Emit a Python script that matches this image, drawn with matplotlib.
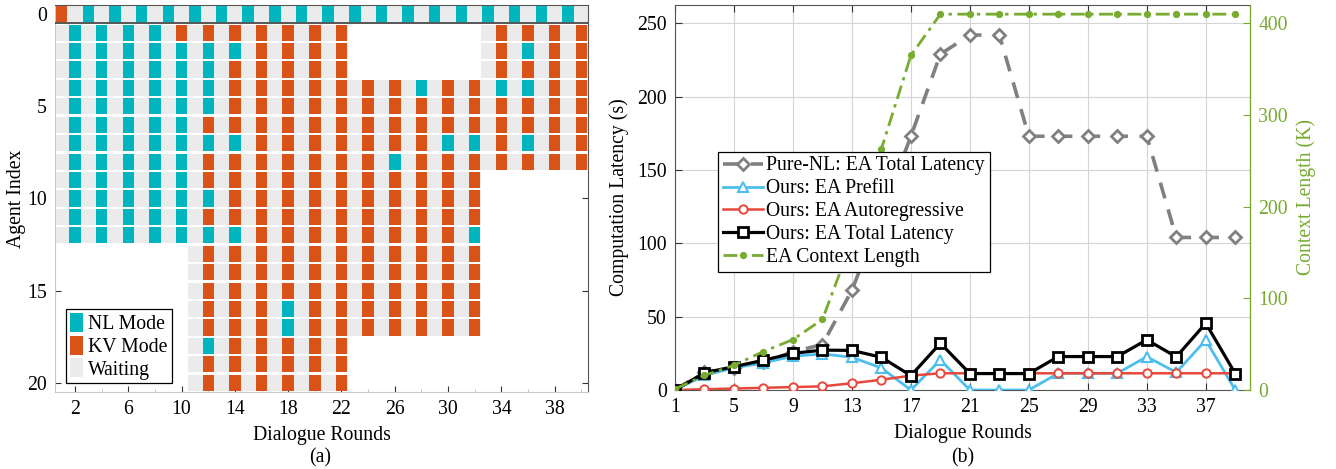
import matplotlib
matplotlib.use("Agg")
import matplotlib.pyplot as plt
import numpy as np
from matplotlib.patches import Patch
from matplotlib.lines import Line2D

plt.rcParams['font.family'] = ['Liberation Serif', 'DejaVu Serif']
plt.rcParams['mathtext.fontset'] = 'stix'

# ---------------- Panel (a) data ----------------
# One string per agent row (row 0 at top); one char per dialogue round 1..40
# N = NL Mode, K = KV Mode, W = Waiting, . = not present
agent_modes = [
    "KWNWNWNWNW" "NWNWNWNWNW" "NWNWNWNWNW" "NWNWNWNWNW",  # 0
    "WNWNWNWNWK" "WKWKWKWKWK" "WK........" "..WKWKWKWK",  # 1
    "WNWNWNWNWN" "WNWNWKWKWK" "WK........" "..WKWNWKWK",  # 2
    "WNWNWNWNWN" "WNWKWKWKWK" "WK........" "..WKWKWKWK",  # 3
    "WNWNWNWNWN" "WNWKWKWKWK" "WKWKWKWNWK" "WKWNWNWKWK",  # 4
    "WNWNWNWNWN" "WNWKWKWKWK" "WKWKWKWKWK" "WKWKWKWKWK",  # 5
    "WNWNWNWNWN" "WKWKWKWKWK" "WKWKWKWKWK" "WKWKWKWKWK",  # 6
    "WNWNWNWNWN" "WNWNWKWKWK" "WKWKWKWKWN" "WNWKWNWKWK",  # 7
    "WNWNWNWNWN" "WKWKWKWKWK" "WKWKWNWKWK" "WKWKWKWKWK",  # 8
    "WNWNWNWNWN" "WKWKWKWKWK" "WKWKWKWKWK" "WK........",  # 9
    "WNWNWNWNWN" "WNWKWKWKWK" "WKWKWKWKWK" "WK........",  # 10
    "WNWNWNWNWN" "WKWKWKWKWK" "WKWKWKWKWK" "WK........",  # 11
    "WNWNWNWNWN" "WNWNWKWKWK" "WKWKWKWKWK" "WN........",  # 12
    ".........." "WKWKWKWKWK" "WKWKWKWKWK" "WK........",  # 13
    ".........." "WKWKWKWKWK" "WKWKWKWKWK" "WK........",  # 14
    ".........." "WKWKWKWKWK" "WKWKWKWKWK" "WK........",  # 15
    ".........." "WKWKWKWNWK" "WKWKWKWKWK" "WK........",  # 16
    ".........." "WKWKWKWNWK" "WKWKWKWKWK" "WK........",  # 17
    ".........." "WNWKWKWKWK" "WK........" "..........",  # 18
    ".........." "WKWKWKWKWK" "WK........" "..........",  # 19
    ".........." "WKWKWKWKWK" "WK........" "..........",  # 20
]
mode_labels = {"N": "NL Mode", "K": "KV Mode", "W": "Waiting"}
a_xticks = [2, 6, 10, 14, 18, 22, 26, 30, 34, 38]
a_yticks = [0, 5, 10, 15, 20]

# ---------------- Panel (b) data ----------------
rounds_b = [1, 3, 5, 7, 9, 11, 13, 15, 17, 19, 21, 23, 25, 27, 29, 31, 33, 35, 37, 39]
purenl_total = [0, 12.5, 15, 19, 26, 31, 68, 120, 173, 229, 242, 242, 173, 173, 173, 173, 173, 104, 104, 104]
ours_prefill = [0, 10, 15, 18.5, 23, 24.6, 22.3, 15, 0, 20.5, 0, 0, 0, 11.4, 11.4, 11.4, 22.7, 12, 34, 0]
ours_autoreg = [0, 0.5, 1, 1.5, 2, 2.5, 4.6, 7, 9.8, 11.4, 11.4, 11.4, 11.4, 11.4, 11.4, 11.4, 11.4, 11.4, 11.4, 11.4]
ours_total = [0, 11.8, 15.9, 20.3, 25, 27.2, 27, 22.3, 9.8, 31.9, 11.2, 11.2, 11.2, 22.8, 22.8, 22.8, 34.2, 22.6, 45.5, 11.2]
context_len_k = [1, 16, 27, 42, 55, 77, 163, 263, 365, 410, 410, 410, 410, 410, 410, 410, 410, 410, 410, 410]
b_xticks = [1, 5, 9, 13, 17, 21, 25, 29, 33, 37]
b_yticks = [0, 50, 100, 150, 200, 250]
b_y2ticks = [0, 100, 200, 300, 400]

# ---------------- styling ----------------
C_NL = '#00B5BE'
C_KV = '#D95319'
C_WAIT = '#EBEBEB'
C_GRAY = '#808080'
C_PRE = '#4DBEEE'
C_AR = '#E8483B'
C_GREEN = '#77AC30'
FS = 14.2

fig = plt.figure(figsize=(13.36, 4.69), dpi=100)

# ---------------- Panel (a) ----------------
axa = fig.add_axes([55/1336, 1-392/469, 533/1336, 387/469])
cell_h = 0.88
for mode, color, w in [("W", C_WAIT, 1.0), ("N", C_NL, 0.86), ("K", C_KV, 0.86)]:
    xs, ys = [], []
    for row, s in enumerate(agent_modes):
        for i, ch in enumerate(s):
            if ch == '.':
                continue
            if mode == "W" or ch == mode:
                xs.append(i + 1)
                ys.append(row)
    axa.bar(xs, cell_h, bottom=np.array(ys) - cell_h/2, width=w, color=color,
            linewidth=0, zorder=2 if mode == "W" else 3)

axa.set_xlim(0.5, 40.5)
axa.set_ylim(20.5, -0.5)
axa.axhline(0.5, color='#3a3a3a', lw=1.2, zorder=4)
axa.set_xticks(a_xticks)
axa.set_xticks(np.arange(2, 41, 2), minor=True)
axa.set_yticks(a_yticks)
axa.tick_params(axis='both', which='major', direction='in', length=4, width=0.8,
                top=True, right=True, labelsize=FS, color='#333333', pad=6)
axa.tick_params(axis='x', which='minor', direction='in', length=2, width=0.6,
                top=False, bottom=True, color='#bbbbbb')
for side in ['bottom', 'left']:
    axa.spines[side].set_color('#c8c8c8')
for side in ['top', 'right']:
    axa.spines[side].set_color('#555555')
axa.set_xlabel('Dialogue Rounds', fontsize=FS, labelpad=5)
axa.set_ylabel('Agent Index', fontsize=FS, labelpad=1)
leg_a = axa.legend(handles=[Patch(facecolor=C_NL, label=mode_labels["N"]),
                            Patch(facecolor=C_KV, label=mode_labels["K"]),
                            Patch(facecolor=C_WAIT, label=mode_labels["W"])],
                   loc='lower left', bbox_to_anchor=(0.02, 0.022), borderaxespad=0,
                   fontsize=FS, fancybox=False, edgecolor='black', framealpha=1,
                   handlelength=0.7, handleheight=1.1, handletextpad=0.25,
                   labelspacing=0.08, borderpad=0.2)
leg_a.get_frame().set_linewidth(0.9)
fig.text(320/1336, 1-458/469, '(a)', ha='center', va='center', fontsize=FS)

# ---------------- Panel (b) ----------------
axb = fig.add_axes([675/1336, 1-390/469, 575/1336, 385/469])
axb.grid(True, color='#d4d4d4', lw=0.8)
axb.set_axisbelow(True)
l1, = axb.plot(rounds_b, purenl_total, color=C_GRAY, lw=2.6, ls=(0, (4.5, 3.2)),
               marker='D', ms=6.5, mfc='white', mec=C_GRAY, mew=2, zorder=3,
               label='Pure-NL: EA Total Latency')
l2, = axb.plot(rounds_b, ours_prefill, color=C_PRE, lw=2, marker='^', ms=6.5,
               mfc='white', mec=C_PRE, mew=1.5, zorder=4, label='Ours: EA Prefill')
l3, = axb.plot(rounds_b, ours_autoreg, color=C_AR, lw=1.8, marker='o', ms=6,
               mfc='white', mec=C_AR, mew=1.4, zorder=5, label='Ours: EA Autoregressive')
l4, = axb.plot(rounds_b, ours_total, color='black', lw=2.3, marker='s', ms=6.5,
               mfc='white', mec='black', mew=2, zorder=6, label='Ours: EA Total Latency')
axb.set_xlim(1, 40)
axb.set_ylim(0, 262.5)
axb.set_xticks(b_xticks)
axb.set_yticks(b_yticks)
axb.tick_params(axis='both', direction='in', length=5, width=0.8, top=True,
                labelsize=FS, color='#333333', pad=6)
for side in ['bottom', 'left', 'top']:
    axb.spines[side].set_color('#555555')
axb.set_xlabel('Dialogue Rounds', fontsize=FS, labelpad=5)
axb.set_ylabel('Computation Latency (s)', fontsize=FS, labelpad=6)

axc = axb.twinx()
l5, = axc.plot(rounds_b, context_len_k, color=C_GREEN, lw=2, ls=(0, (5, 2, 1.2, 2)),
               marker='o', ms=4.2, mfc=C_GREEN, mec=C_GREEN, zorder=5,
               label='EA Context Length')
axc.set_ylim(0, 420)
axc.set_yticks(b_y2ticks)
axc.tick_params(axis='y', direction='in', length=5, width=0.8, colors=C_GREEN,
                labelsize=FS, pad=6)
axc.spines['right'].set_color(C_GREEN)
for side in ['bottom', 'left', 'top']:
    axc.spines[side].set_visible(False)
axc.set_ylabel('Context Length (K)', fontsize=FS, color=C_GREEN, labelpad=6)

leg_b = axc.legend(handles=[l1, l2, l3, l4, l5], loc='lower left',
                   bbox_to_anchor=(0.075, 0.306), borderaxespad=0, fontsize=FS,
                   fancybox=False, edgecolor='black', framealpha=1,
                   handlelength=2.0, handletextpad=0.2, labelspacing=0.2,
                   borderpad=0.25)
leg_b.get_frame().set_linewidth(0.9)
fig.text(963/1336, 1-458/469, '(b)', ha='center', va='center', fontsize=FS)

fig.savefig('out.png', dpi=100)
